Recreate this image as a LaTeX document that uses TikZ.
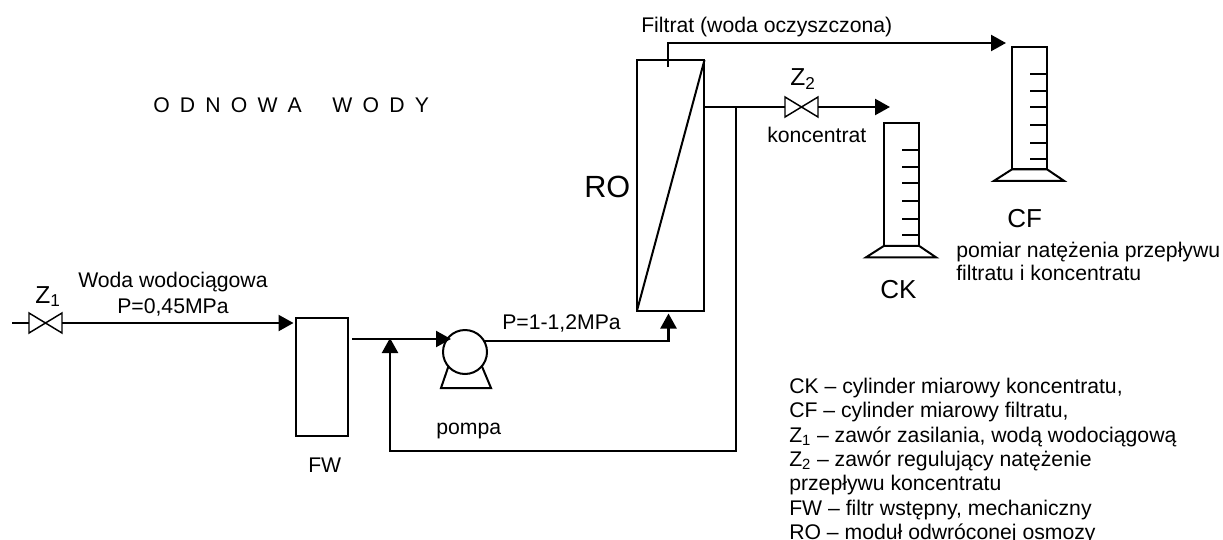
\documentclass[tikz,border=0pt]{standalone}
\usepackage{fontspec}
\setmainfont{Liberation Sans}
\usetikzlibrary{arrows.meta}

\tikzset{
  pipe/.style={line width=1.7pt},
  flow/.style={pipe,-{Triangle[length=11.25pt,width=12pt]}},
  thin line/.style={line width=1.5pt},
  valve line/.style={line width=1.1pt},
  valve/.style={inner sep=0,outer sep=0,minimum width=24.75pt,minimum height=15pt},
  tube/.style={draw,thin line,inner sep=0,outer sep=0,minimum width=26.25pt,minimum height=92pt},
  lbl/.style={anchor=base west,inner sep=0,font=\fontsize{15.9}{18}\selectfont},
  biglbl/.style={anchor=base west,inner sep=0,font=\fontsize{19.5}{22}\selectfont},
  zlbl/.style={anchor=base west,inner sep=0,font=\fontsize{18.4}{22}\selectfont}
}

\begin{document}
\begin{tikzpicture}[x=0.75pt,y=-0.75pt]
            \useasboundingbox (0,0) rectangle (1223,539);

            % aparaty
            \node [valve] (z1) at (45.5,323) {};
            \node [valve] (z2) at (801.5,107) {};
            \node [draw,thin line,inner sep=0,outer sep=0,minimum width=39pt,minimum height=88.5pt] (FW) at (322,377) {};
            \node [draw,thin line,inner sep=0,outer sep=0,minimum width=50.6pt,minimum height=187.9pt] (RO) at (670.75,185.25) {};
            \node [draw,thin line,circle,inner sep=0,outer sep=0,minimum size=33pt] (pump) at (465,352) {};
            \node [tube] (CFtube) at (1029.5,108) {};
            \node [tube] (CKtube) at (901.5,184.5) {};

            \foreach \n in {z1,z2}
                \draw [valve line] (\n.north west) -- (\n.south east) -- (\n.north east) -- (\n.south west) -- cycle;

            \draw [thin line] (RO.south west) -- (RO.north east);
            \draw [thin line] (pump.221) -- (441,388) -- (491,388) -- (pump.320);

            \foreach \n in {CF,CK} {
                \draw [thin line] (\n tube.south west) -- ++(-18,11.5) -- ++(70,0) -- (\n tube.south east) -- cycle;
                \foreach \t in {27,44,60,78,96,112}
                    \draw [thin line] (\n tube.north east) ++(0,\t) -- ++(-17,0);
            }

            % punkty na rurach
            \coordinate (start) at (12,323);
            \coordinate (fwin) at (293.5,323);
            \coordinate (fwout) at (352,339);
            \coordinate (pumpin) at (451,339);
            \coordinate (pumpout) at (484,341);
            \coordinate (roin) at (668.5,313.5);
            \coordinate (rotap) at (668,67);
            \coordinate (cfin) at (1006,43);
            \coordinate (conc) at (704.5,107);
            \coordinate (branch) at (736,107);
            \coordinate (ckin) at (890,107);
            \coordinate (retbot) at (736,451);
            \coordinate (retin) at (390,338);

            \draw [pipe] (start) -- (z1.west);
            \draw [flow] (z1.east) -- (fwin);
            \draw [flow] (fwout) -- (pumpin);
            \draw [flow] (pumpout) -| (roin);
            \draw [flow] (rotap) |- (cfin);
            \draw [pipe] (conc) -- (z2.west);
            \draw [flow] (z2.east) -- (ckin);
            \draw [flow] (branch) -- (retbot) -| (retin);

            % opisy
            \node [lbl] (title) at (153,112) {\spaceskip=.48em O D N O W A\ \ \ W O D Y};
            \node [lbl] (woda) at (78,287) {Woda wodociągowa};
            \node [lbl] (p1) at (117,313) {P=0,45MPa};
            \node [lbl] (p2) at (502,329) {P=1-1,2MPa};
            \node [lbl] (filtrat) at (641,32) {Filtrat (woda oczyszczona)};
            \node [lbl] (koncentrat) at (767,142) {koncentrat};
            \node [lbl] (pompa) at (436,434) {pompa};
            \node [lbl] (fwlbl) at (308,472) {FW};
            \node [lbl] (pomiar1) at (956,257) {pomiar natężenia przepływu};
            \node [lbl] (pomiar2) at (956,280) {filtratu i koncentratu};
            \node [zlbl] (z1lbl) at (35,303) {Z\textsubscript{1}};
            \node [zlbl] (z2lbl) at (790,85) {Z\textsubscript{2}};
            \node [biglbl] (cflbl) at (1007,227) {CF};
            \node [biglbl] (cklbl) at (880,298) {CK};
            \node [anchor=base west,inner sep=0,font=\fontsize{23}{26}\selectfont] (rolbl) at (584,197) {RO};

            % legenda
            \node [lbl] (leg1) at (789,393) {CK – cylinder miarowy koncentratu,};
            \node [lbl] (leg2) at (789,417.5) {CF – cylinder miarowy filtratu,};
            \node [lbl] (leg3) at (789,442) {Z\textsubscript{1} – zawór zasilania, wodą wodociągową};
            \node [lbl] (leg4) at (789,466.5) {Z\textsubscript{2} – zawór regulujący natężenie};
            \node [lbl] (leg5) at (789,490.5) {przepływu koncentratu};
            \node [lbl] (leg6) at (789,515) {FW – filtr wstępny, mechaniczny};
            \node [lbl] (leg7) at (789,539) {RO – moduł odwróconej osmozy};
\end{tikzpicture}
\end{document}
